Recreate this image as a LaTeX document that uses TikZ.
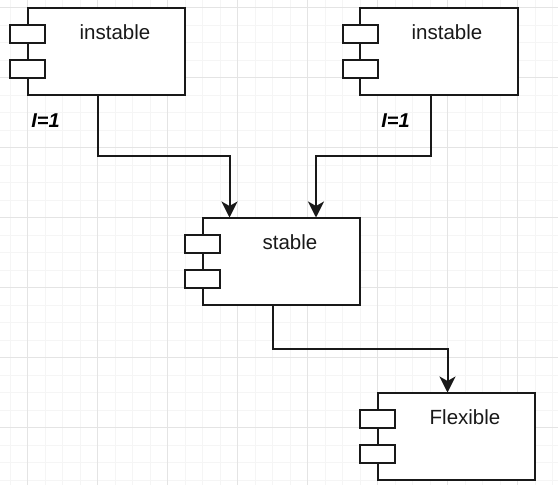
\documentclass[tikz,border=0pt]{standalone}
\usepackage{fontspec}
\setmainfont{Liberation Sans}
\usetikzlibrary{arrows.meta}
\definecolor{gridminor}{HTML}{F5F5F5}
\definecolor{gridmajor}{HTML}{E4E4E4}
\tikzset{
  x=1pt,y=-1pt,
  body/.style={draw=black!90,line width=2pt,outer sep=0pt,fill=white,minimum width=157.5pt,minimum height=87.5pt,inner sep=0pt,anchor=north west},
  port/.style={draw=black!90,line width=2pt,outer sep=0pt,fill=white,minimum width=35pt,minimum height=17.5pt,inner sep=0pt,anchor=north west},
  title/.style={font=\fontsize{20.5}{24}\selectfont,text=black!90,inner sep=0pt},
  link/.style={draw=black!90,line width=2pt,-{Stealth[length=16pt,width=16pt,inset=4.5pt]}},
  weight/.style={font=\fontsize{20}{24}\selectfont\bfseries\itshape,inner sep=0pt},
}
\begin{document}
\begin{tikzpicture}
\useasboundingbox (0,0) rectangle (558,485);
\fill[white] (0,0) rectangle (558,485);
\foreach \i in {0,...,32}{
  \draw[gridminor,line width=.7pt] ({10+17.5*\i-17.5},0) -- ({10+17.5*\i-17.5},485);
  \draw[gridminor,line width=.7pt] (0,{7.5+17.5*\i-17.5}) -- (558,{7.5+17.5*\i-17.5});
}
\foreach \i in {0,...,8}{
  \draw[gridmajor,line width=.7pt] ({27.5+70*\i},0) -- ({27.5+70*\i},485);
  \draw[gridmajor,line width=.7pt] (0,{7.5+70*\i}) -- (558,{7.5+70*\i});
}
\node[body] (a) at (27.5,7.5) {};
\node[port] (ap1) at (10,25) {};
\node[port] (ap2) at (10,60) {};
\node[title] (at) at (115,32) {instable};
\node[body] (b) at (360,7.5) {};
\node[port] (bp1) at (342.5,25) {};
\node[port] (bp2) at (342.5,60) {};
\node[title] (bt) at (447,32) {instable};
\node[body] (c) at (202.5,217.5) {};
\node[port] (cp1) at (185,235) {};
\node[port] (cp2) at (185,270) {};
\node[title] (ct) at (290,242) {stable};
\node[body] (d) at (377.5,392.5) {};
\node[port] (dp1) at (360,410) {};
\node[port] (dp2) at (360,445) {};
\node[title] (dt) at (465,417) {Flexible};
\node[weight] (w1) at (45.5,121) {I=1};
\node[weight] (w2) at (395.5,121) {I=1};
\coordinate (a1) at (97.5,156);
\coordinate (a2) at (229.5,156);
\coordinate (b1) at (430.5,156);
\coordinate (b2) at (316,156);
\coordinate (c1) at (272.5,348.5);
\coordinate (c2) at (447.5,348.5);
\draw[link] (a.south west -| a1) -- (a1) -- (a2) -- (a2 |- c.north);
\draw[link] (b.south west -| b1) -- (b1) -- (b2) -- (b2 |- c.north);
\draw[link] (c.south west -| c1) -- (c1) -- (c2) -- (c2 |- d.north);
\end{tikzpicture}
\end{document}
